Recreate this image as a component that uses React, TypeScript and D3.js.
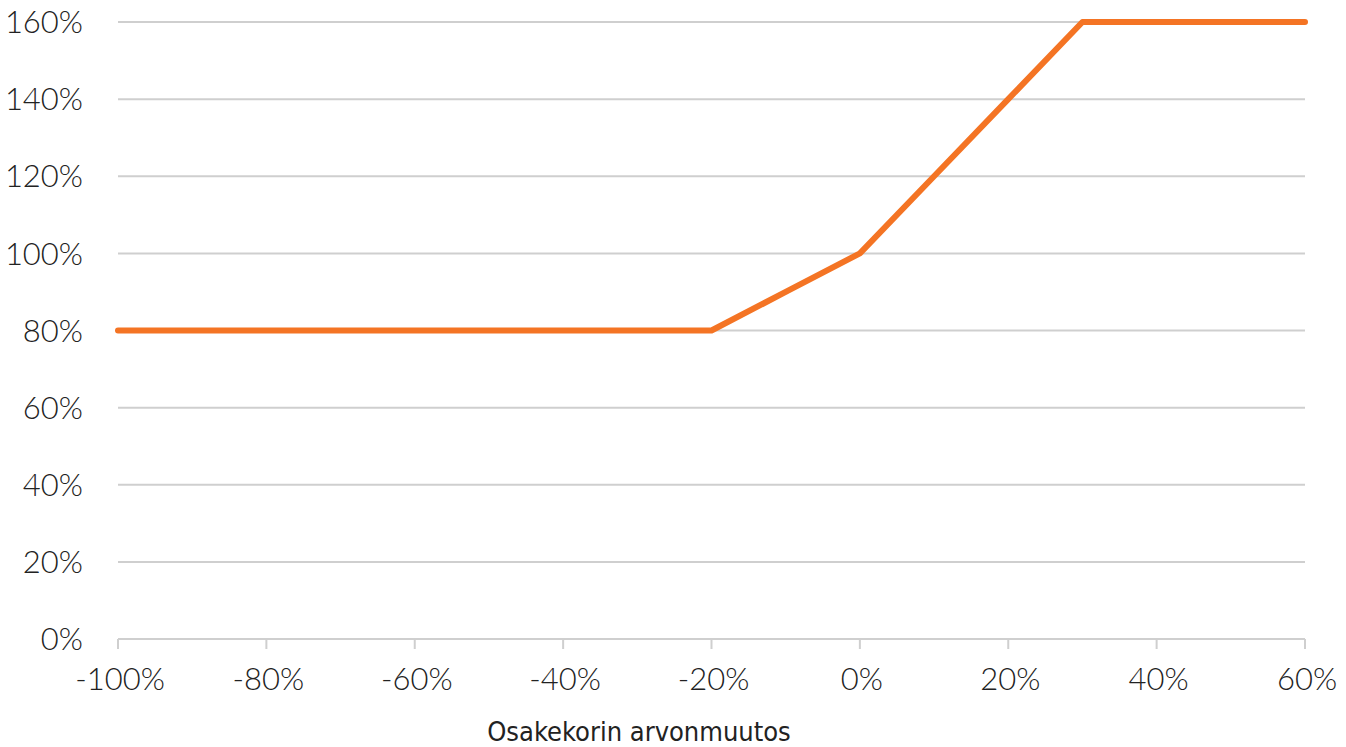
import React from "react";
import * as d3 from "d3";

const xValues = [-100, -90, -80, -70, -60, -50, -40, -30, -20, -10, 0, 10, 20, 30, 40, 50, 60];
const yValues = [80, 80, 80, 80, 80, 80, 80, 80, 80, 90, 100, 120, 140, 160, 160, 160, 160];
const xTicks = [-100, -80, -60, -40, -20, 0, 20, 40, 60];
const yTicks = [0, 20, 40, 60, 80, 100, 120, 140, 160];
const xTitle = "Osakekorin arvonmuutos";

const W = 1346;
const H = 747;

export default function App() {
  const x = d3.scaleLinear().domain([-100, 60]).range([118, 1305]);
  const y = d3.scaleLinear().domain([0, 160]).range([639, 22]);
  const data = xValues.map((v, i) => ({ x: v, y: yValues[i] }));
  const line = d3
    .line<{ x: number; y: number }>()
    .x((d) => x(d.x))
    .y((d) => y(d.y));
  const font = "Lato, 'Open Sans', sans-serif";
  return (
    <svg
      width={W}
      height={H}
      style={{ position: "absolute", left: 0, top: 0, background: "#fff" }}
    >
      {yTicks.map((t) => (
        <g key={t}>
          {t > 0 && (
            <line x1={x(-100)} x2={x(60)} y1={y(t)} y2={y(t)} stroke="#cfcfcf" strokeWidth={2} />
          )}
          <text
            x={83}
            y={y(t)}
            dy="0.36em"
            textAnchor="end"
            fontFamily={font}
            fontWeight={300}
            fontSize={31}
            fill="#222"
          >
            {t}%
          </text>
        </g>
      ))}
      <line x1={x(-100)} x2={x(60)} y1={y(0)} y2={y(0)} stroke="#cfcfcf" strokeWidth={2} />
      {xTicks.map((t) => (
        <g key={t}>
          <line x1={x(t)} x2={x(t)} y1={y(0)} y2={y(0) + 10} stroke="#cfcfcf" strokeWidth={2} />
          <text
            x={x(t) + 2}
            y={690}
            textAnchor="middle"
            fontFamily={font}
            fontWeight={300}
            fontSize={31}
            fill="#222"
          >
            {t}%
          </text>
        </g>
      ))}
      <path
        d={line(data) || ""}
        fill="none"
        stroke="#F47424"
        strokeWidth={6}
        strokeLinecap="round"
        strokeLinejoin="round"
      />
      <text
        x={639}
        y={741}
        textAnchor="middle"
        fontFamily="'DejaVu Sans Condensed', 'Liberation Sans Narrow', sans-serif"
        fontSize={27}
        fill="#222"
      >
        {xTitle}
      </text>
    </svg>
  );
}
